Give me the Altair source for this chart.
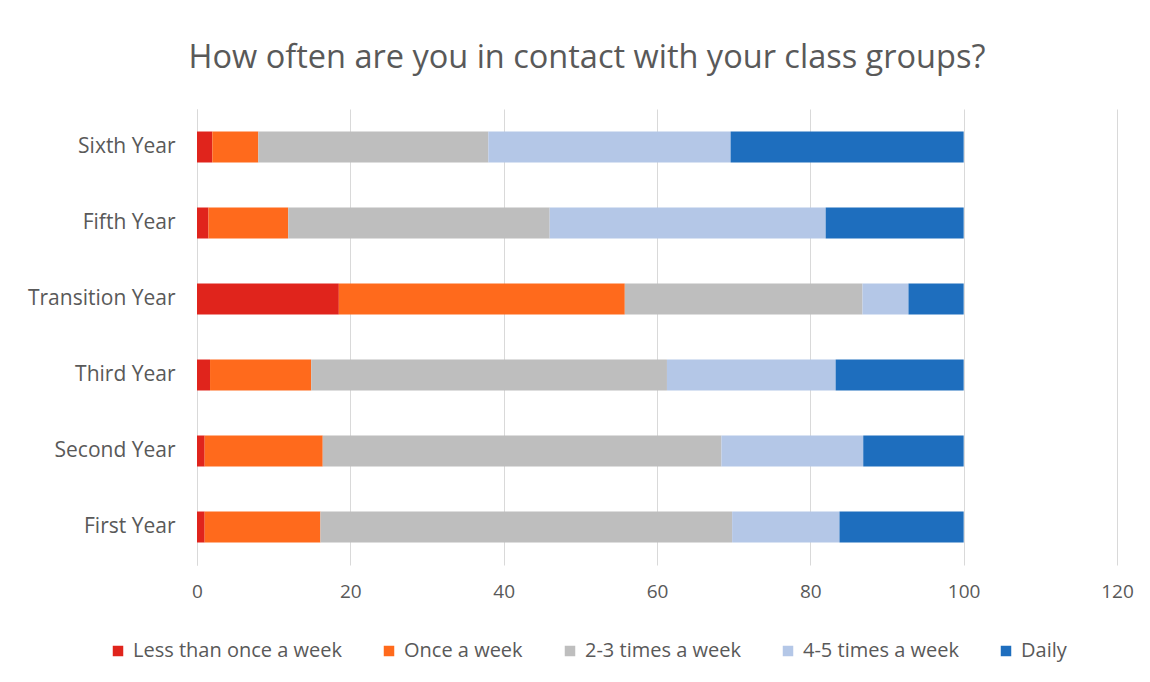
import altair as alt
import pandas as pd

years = ["Sixth Year", "Fifth Year", "Transition Year", "Third Year", "Second Year", "First Year"]
responses = ["Less than once a week", "Once a week", "2-3 times a week", "4-5 times a week", "Daily"]
colors = ["#E0241C", "#FF6A1C", "#BEBEBE", "#B4C7E7", "#1E6EBE"]

less_than_weekly = [2.0, 1.5, 18.5, 1.7, 1.0, 1.0]
once_a_week = [6.0, 10.4, 37.3, 13.2, 15.4, 15.1]
two_three = [30.0, 34.1, 31.0, 46.4, 52.0, 53.7]
four_five = [31.6, 36.0, 6.0, 22.0, 18.5, 14.0]
daily = [30.4, 18.0, 7.2, 16.7, 13.1, 16.2]

series = [less_than_weekly, once_a_week, two_three, four_five, daily]
rows = []
for k, (resp, vals) in enumerate(zip(responses, series)):
    for y, v in zip(years, vals):
        rows.append({"year": y, "response": resp, "value": v, "ord": k})
df = pd.DataFrame(rows)

FONT = "Open Sans"
GREY = "#595959"

chart = alt.Chart(df).mark_bar(size=31).encode(
    x=alt.X("value:Q", stack="zero",
            scale=alt.Scale(domain=[0, 120], nice=False),
            axis=alt.Axis(values=[0, 20, 40, 60, 80, 100, 120], title=None,
                          grid=True, gridColor="#D9D9D9", domain=False, ticks=False,
                          labelFontSize=19, labelColor=GREY, labelFont=FONT,
                          labelFlush=False, labelPadding=17)),
    y=alt.Y("year:N", sort=years, title=None,
            axis=alt.Axis(ticks=False, domain=True, domainColor="#D9D9D9",
                          labelFontSize=21, labelColor=GREY, labelFont=FONT,
                          labelPadding=22)),
    color=alt.Color("response:N", sort=responses,
                    scale=alt.Scale(domain=responses, range=colors),
                    legend=alt.Legend(title=None, orient="none", direction="horizontal",
                                      legendX=-89, legendY=532, symbolType="square",
                                      symbolSize=110, symbolStrokeWidth=0,
                                      labelFontSize=20, labelColor=GREY, labelFont=FONT,
                                      labelLimit=0,
                                      columnPadding=37, labelOffset=5, symbolOffset=0)),
    order=alt.Order("ord:Q"),
).properties(
    width=920, height=456,
    title=alt.TitleParams("How often are you in contact with your class groups?",
                          fontSize=32.5, font=FONT, color=GREY, fontWeight="normal",
                          anchor="middle", dx=-70, offset=35),
    autosize=alt.AutoSizeParams(type="none"),
    padding={"left": 189, "top": 101, "right": 25, "bottom": 110},
).configure(background="white").configure_view(stroke=None)

chart.save("out.html", embed_options={"renderer": "svg", "actions": False})
